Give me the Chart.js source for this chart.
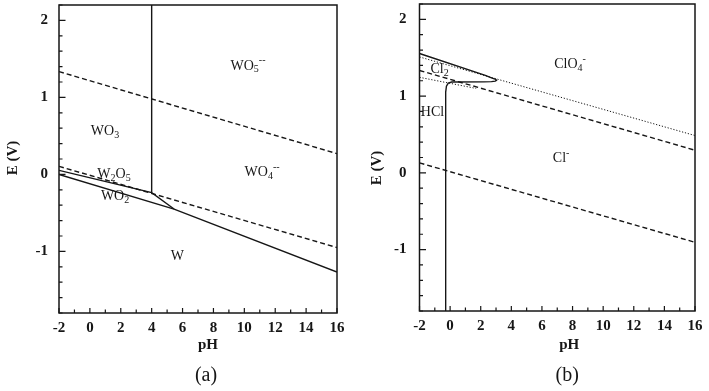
<!DOCTYPE html>
<html>
<head>
<meta charset="utf-8">
<script src="https://cdn.jsdelivr.net/npm/chart.js@4.4.1/dist/chart.umd.min.js"></script>
<style>
  body { margin: 0; background: #fff; }
  #wrap { position: relative; width: 709px; height: 391px; }
  #left { position: absolute; left: 0; top: 0; }
  #right { position: absolute; left: 354px; top: 0; }
</style>
</head>
<body>
<div id="wrap">
  <canvas id="left" width="354" height="391"></canvas>
  <canvas id="right" width="355" height="391"></canvas>
</div>
<script>
// axes
const phTicks = [-2, 0, 2, 4, 6, 8, 10, 12, 14, 16];
const eTicks = [-1, 0, 1, 2];
const phMin = -2, phMax = 16, eMin = -1.8, eMax = 2.2;

// (a) tungsten
const wO2Ph = [-2, 16];
const wO2E = [1.335, 0.27];
const wH2Ph = [-2, 16];
const wH2E = [0.105, -0.95];
const wVertPh = [4, 4];
const wVertE = [2.2, -0.236];
const wUpperPh = [-2, 4, 5.45];
const wUpperE = [0.053, -0.236, -0.45];
const wLowerPh = [-2, 5.45, 16];
const wLowerE = [0.0, -0.45, -1.268];

// (b) chlorine
const cO2Ph = [-2, 16];
const cO2E = [1.334, 0.295];
const cH2Ph = [-2, 16];
const cH2E = [0.13, -0.905];
const cDotTopPh = [-2, 16];
const cDotTopE = [1.51, 0.486];
const cDotLowPh = [-2, 1.7];
const cDotLowE = [1.245, 1.10];
const cSolidPh = [-2, 2.3, 2.75, 2.98, 3.03, 2.95, 2.7, 2.2, 0.1, -0.12, -0.24, -0.29, -0.29];
const cSolidE = [1.555, 1.27, 1.235, 1.217, 1.205, 1.195, 1.188, 1.185, 1.183, 1.17, 1.13, 1.05, -1.8];

// region labels: [pH, E, parts]  parts: [text, 0 normal / -1 sub / 1 sup]
const wLabels = [
    [10.24, 1.41, [['WO', 0], ['5', -1], ['--', 1]]],
    [0.98, 0.56, [['WO', 0], ['3', -1]]],
    [1.56, 0.0, [['W', 0], ['2', -1], ['O', 0], ['5', -1]]],
    [1.63, -0.28, [['WO', 0], ['2', -1]]],
    [11.15, 0.03, [['WO', 0], ['4', -1], ['--', 1]]],
    [5.67, -1.06, [['W', 0]]]
];
const cLabels = [
    [7.84, 1.41, [['ClO', 0], ['4', -1], ['-', 1]]],
    [-0.69, 1.35, [['Cl', 0], ['2', -1]]],
    [-1.15, 0.79, [['HCl', 0]]],
    [7.25, 0.19, [['Cl', 0], ['-', 1]]]
];

const ink = '#161616';
const serif = '"Liberation Serif", "DejaVu Serif", serif';

function pts(xs, ys) {
    return xs.map(function (x, i) { return { x: x, y: ys[i] }; });
}

function line(xs, ys, dash, width) {
    return {
        data: pts(xs, ys),
        showLine: true,
        borderColor: ink,
        borderWidth: width || 1.4,
        borderDash: dash || [],
        pointRadius: 0,
        fill: false,
        tension: 0
    };
}

function drawChem(ctx, parts, cx, cy) {
    let w = 0;
    parts.forEach(function (p) {
        ctx.font = (p[1] === 0 ? '14px ' : '10px ') + serif;
        w += ctx.measureText(p[0]).width;
    });
    let x = cx - w / 2;
    ctx.textAlign = 'left';
    ctx.textBaseline = 'middle';
    parts.forEach(function (p) {
        ctx.font = (p[1] === 0 ? '14px ' : '10px ') + serif;
        let dy = p[1] === -1 ? 4 : (p[1] === 1 ? -5 : 0);
        ctx.fillText(p[0], x, cy + dy);
        x += ctx.measureText(p[0]).width;
    });
}

const panelDecor = {
    id: 'panelDecor',
    afterDraw(chart, args, opts) {
        const ctx = chart.ctx;
        const a = chart.chartArea;
        const xs = chart.scales.x, ys = chart.scales.y;
        ctx.save();
        ctx.strokeStyle = ink;
        ctx.fillStyle = ink;
        ctx.lineWidth = 1.5;
        ctx.strokeRect(a.left, a.top, a.right - a.left, a.bottom - a.top);

        // inner ticks
        ctx.lineWidth = 1.2;
        ctx.beginPath();
        for (let v = phMin; v <= phMax; v += 1) {
            let px = xs.getPixelForValue(v);
            let len = (v % 2 === 0) ? 5 : 3.5;
            ctx.moveTo(px, a.bottom);
            ctx.lineTo(px, a.bottom - len);
        }
        for (let k = -9; k <= 11; k++) {
            let v = k / 5;
            let py = ys.getPixelForValue(v);
            let len = (k % 5 === 0) ? 6.5 : 3.5;
            ctx.moveTo(a.left, py);
            ctx.lineTo(a.left + len, py);
        }
        ctx.stroke();

        // region labels
        opts.labels.forEach(function (l) {
            drawChem(ctx, l[2], xs.getPixelForValue(l[0]), ys.getPixelForValue(l[1]));
        });

        // axis titles
        ctx.textAlign = 'center';
        ctx.textBaseline = 'middle';
        ctx.font = 'bold 15px ' + serif;
        ctx.fillText('pH', (a.left + a.right) / 2 + opts.shift, 345);
        ctx.font = '20px ' + serif;
        ctx.fillText(opts.tag, (a.left + a.right) / 2 + opts.shift - 2, 376);
        ctx.save();
        ctx.translate(opts.eX, opts.eY);
        ctx.rotate(-Math.PI / 2);
        ctx.font = 'bold 15px ' + serif;
        ctx.fillText('E (V)', 0, 0);
        ctx.restore();
        ctx.restore();
    }
};

function buildPanel(id, datasets, labels, tag, box) {
    let ctx = document.getElementById(id).getContext('2d');
    return new Chart(ctx, {
        type: 'scatter',
        data: { datasets: datasets },
        options: {
            responsive: false,
            animation: false,
            devicePixelRatio: 1,
            layout: { padding: { left: 0, top: box.top, right: box.right, bottom: 0 } },
            scales: {
                x: {
                    type: 'linear',
                    min: phMin,
                    max: phMax,
                    grid: { display: false },
                    border: { display: false },
                    afterBuildTicks: function (s) { s.ticks = phTicks.map(function (v) { return { value: v }; }); },
                    afterFit: function (s) {
                        s.height = box.xh;
                        s.paddingLeft = 0;
                        s.paddingRight = 0;
                    },
                    ticks: { color: ink, padding: -2, maxRotation: 0, font: { family: serif, size: 15, weight: 'bold' } }
                },
                y: {
                    type: 'linear',
                    min: eMin,
                    max: eMax,
                    grid: { display: false },
                    border: { display: false },
                    afterBuildTicks: function (s) { s.ticks = eTicks.map(function (v) { return { value: v }; }); },
                    afterFit: function (s) {
                        s.width = box.yw;
                        s.paddingTop = 0;
                        s.paddingBottom = 0;
                    },
                    ticks: { color: ink, padding: box.yPad, font: { family: serif, size: 15, weight: 'bold' } }
                }
            },
            plugins: {
                legend: { display: false },
                tooltip: { enabled: false },
                panelDecor: { labels: labels, tag: tag, shift: box.shift, eX: box.eX, eY: box.eY }
            }
        },
        plugins: [panelDecor]
    });
}

buildPanel('left', [
    line(wO2Ph, wO2E, [5, 3]),
    line(wH2Ph, wH2E, [5, 3]),
    line(wVertPh, wVertE),
    line(wUpperPh, wUpperE),
    line(wLowerPh, wLowerE)
], wLabels, '(a)', { top: 5, right: 17, xh: 78, yw: 59, yPad: 3, shift: 10, eX: 13, eY: 158 });

buildPanel('right', [
    line(cDotTopPh, cDotTopE, [1.2, 1.8], 1),
    line(cDotLowPh, cDotLowE, [1.2, 1.8], 1),
    line(cO2Ph, cO2E, [5, 3]),
    line(cH2Ph, cH2E, [5, 3]),
    line(cSolidPh, cSolidE)
], cLabels, '(b)', { top: 4, right: 14, xh: 80, yw: 65.5, yPad: 5, shift: 12, eX: 23, eY: 168 });
</script>
</body>
</html>
